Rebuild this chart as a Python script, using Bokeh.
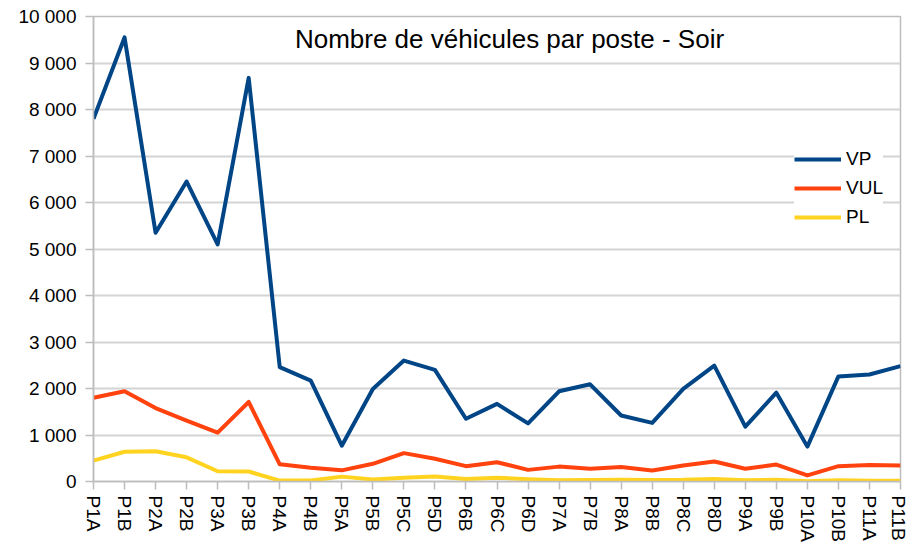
from bokeh.plotting import figure
from bokeh.models import (Range1d, FixedTicker, Legend, LegendItem, Label,
                          ColumnDataSource)
from bokeh.embed import file_html
from bokeh.resources import INLINE

categories = ["P1A", "P1B", "P2A", "P2B", "P3A", "P3B", "P4A", "P4B", "P5A",
              "P5B", "P5C", "P5D", "P6B", "P6C", "P6D", "P7A", "P7B", "P8A",
              "P8B", "P8C", "P8D", "P9A", "P9B", "P10A", "P10B", "P11A", "P11B"]

vp = [7800, 9550, 5350, 6450, 5100, 8680, 2460, 2170, 770, 1990, 2600, 2400,
      1350, 1670, 1250, 1940, 2090, 1420, 1260, 1990, 2490, 1180, 1910, 750,
      2260, 2300, 2480]
vul = [1800, 1940, 1580, 1310, 1050, 1710, 370, 295, 240, 380, 610, 490,
       330, 415, 250, 320, 275, 310, 235, 345, 430, 275, 365, 130,
       330, 355, 345]
pl = [450, 640, 650, 520, 220, 215, 20, 20, 105, 45, 80, 110,
      55, 80, 50, 25, 30, 40, 30, 35, 55, 25, 35, 5,
      25, 15, 15]

y_ticks = list(range(0, 10001, 1000))
title_text = "Nombre de véhicules par poste - Soir"
series_names = ["VP", "VUL", "PL"]
series_colors = ["#004586", "#ff420e", "#ffd320"]

FONT = "Liberation Sans"
GRID = "#d4d4d4"
AXIS = "#bdbdbd"

xs = list(range(len(categories)))

p = figure(width=908, height=544, output_backend="svg", toolbar_location=None,
           x_range=Range1d(0, len(categories) - 1), y_range=Range1d(0, 10000),
           min_border_left=93, min_border_right=8, min_border_top=16,
           min_border_bottom=0)
p.background_fill_color = "white"
p.border_fill_color = "white"
p.outline_line_color = AXIS
p.outline_line_width = 1.5

# axes
p.xaxis.ticker = FixedTicker(ticks=xs)
p.xaxis.major_label_overrides = {i: c for i, c in enumerate(categories)}
p.xaxis.major_label_orientation = "vertical"
p.yaxis.ticker = FixedTicker(ticks=y_ticks)
p.yaxis.major_label_overrides = {v: f"{v:,}".replace(",", " ") for v in y_ticks}

for ax in (p.xaxis[0], p.yaxis[0]):
    ax.axis_line_color = AXIS
    ax.axis_line_width = 1.5
    ax.major_tick_line_color = AXIS
    ax.major_tick_line_width = 1.5
    ax.major_tick_in = 0
    ax.minor_tick_line_color = None
    ax.major_label_text_font = FONT
    ax.major_label_text_font_size = "19px"
    ax.major_label_text_color = "#000000"

p.xaxis.major_tick_out = 8
p.xaxis.major_label_standoff = 6
p.yaxis.major_tick_out = 8
p.yaxis.major_label_standoff = 9

p.xgrid.grid_line_color = None
p.ygrid.grid_line_color = GRID
p.ygrid.grid_line_width = 2

renderers = []
for name, vals, col in zip(series_names, [vp, vul, pl], series_colors):
    src = ColumnDataSource(dict(x=xs, y=vals))
    r = p.line("x", "y", source=src, line_color=col, line_width=4,
               line_join="round")
    renderers.append((name, r))

legend = Legend(items=[LegendItem(label=n, renderers=[r]) for n, r in renderers],
                location=(701, 252), orientation="vertical",
                label_text_font=FONT, label_text_font_size="19px",
                label_text_color="#000000",
                glyph_width=47, glyph_height=24, label_height=24,
                label_standoff=5, spacing=5, padding=7, margin=0,
                border_line_color=None, background_fill_color="white",
                background_fill_alpha=1.0)
p.add_layout(legend, "center")

title = Label(x=416, y=443, x_units="screen", y_units="screen", text=title_text,
              text_font=FONT, text_font_size="26px", text_color="#000000",
              text_align="center", text_baseline="middle")
p.add_layout(title)

open("out.html", "w").write(file_html(p, INLINE))
